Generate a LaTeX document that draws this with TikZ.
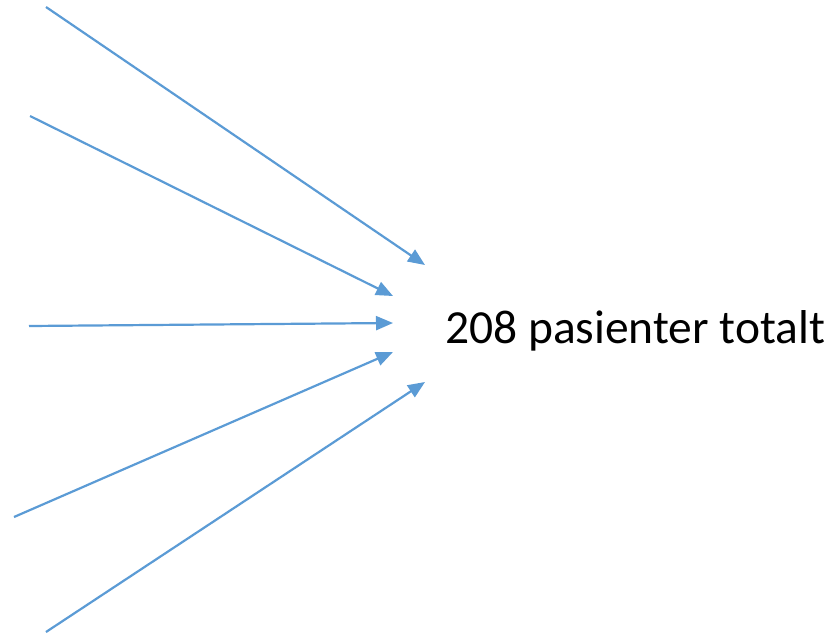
\documentclass[tikz,border=0pt]{standalone}
\usepackage{fontspec}
\setmainfont{Carlito}
\usetikzlibrary{arrows.meta}
\definecolor{linkblue}{HTML}{5B9BD5}
\tikzset{
  feed/.style={draw=linkblue, line width=2.2pt, -{Triangle[length=17pt,width=14pt]}},
  total/.style={anchor=base west, inner sep=0pt, font=\fontsize{47.5}{55}\selectfont}
}
\begin{document}
\begin{tikzpicture}[x=1pt, y=-1pt]
  \useasboundingbox (0,0) rectangle (837,635);
  \node[total] (tot) at (445,343) {208 pasienter totalt};
  % source ends of the incoming arrows
  \coordinate (s1) at (46,7);
  \coordinate (s2) at (30,116);
  \coordinate (s3) at (29,326);
  \coordinate (s4) at (14,517);
  \coordinate (s5) at (46,632);
  % arrow tips around the total
  \coordinate (t1) at (425,265);
  \coordinate (t2) at (393,296);
  \coordinate (t3) at (393,323);
  \coordinate (t4) at (393,352);
  \coordinate (t5) at (425,382);
  \draw[feed] (s1) -- (t1);
  \draw[feed] (s2) -- (t2);
  \draw[feed] (s3) -- (t3);
  \draw[feed] (s4) -- (t4);
  \draw[feed] (s5) -- (t5);
\end{tikzpicture}
\end{document}
